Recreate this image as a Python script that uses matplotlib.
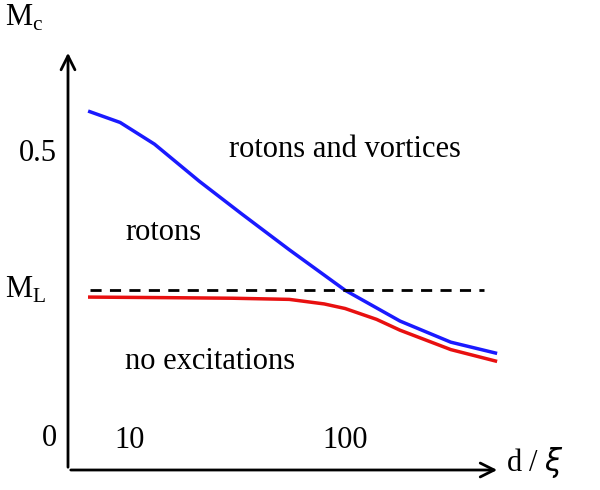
import matplotlib
matplotlib.use("Agg")
import matplotlib.pyplot as plt
import numpy as np

plt.rcParams['font.family'] = ['Liberation Serif', 'DejaVu Serif']

d_blue = [6.5, 9, 13, 21, 33, 55, 100, 180, 310, 500]
mc_blue = [0.567, 0.548, 0.510, 0.445, 0.388, 0.325, 0.254, 0.200, 0.163, 0.144]
d_red = [6.5, 15, 30, 55, 80, 100, 140, 180, 310, 500]
mc_red = [0.242, 0.241, 0.240, 0.238, 0.230, 0.222, 0.203, 0.184, 0.150, 0.130]
ML = 0.254
xticks = [10, 100]
xticklabels = ['10', '100']

fig = plt.figure(figsize=(6, 4.9), dpi=100)
ax = fig.add_axes([68/600, 20/490, 432/600, 420/490])
ax.set_xscale('log')
ax.set_xlim(5.15, 525)
ax.set_ylim(-0.061, 0.675)
for s in ax.spines.values():
    s.set_visible(False)
ax.annotate('', xy=(1.0, 0), xytext=(0, 0), xycoords='axes fraction',
            arrowprops=dict(arrowstyle='->', lw=2, color='black', mutation_scale=25))
ax.annotate('', xy=(0, 1.0), xytext=(0, 0), xycoords='axes fraction',
            arrowprops=dict(arrowstyle='->', lw=2, color='black', mutation_scale=25))

ax.plot(d_blue, mc_blue, color='#1a1aff', lw=2.5)
ax.plot(d_red, mc_red, color='#e81010', lw=2.5)
ax.plot([6.5, 440], [ML, ML], 'k--', lw=2, dashes=(4, 3))

ax.set_xticks([])
for xv, lab in zip(xticks, xticklabels):
    ax.text(xv, -0.01, lab, fontsize=22, ha='center', va='center')
ax.set_yticks([0, 0.5])
ax.set_yticklabels(['0', '0.5'], fontsize=22)
ax.tick_params(length=0, pad=8)
ax.minorticks_off()

ax.text(-0.05, ML, r'M$_\mathregular{L}$', transform=ax.get_yaxis_transform(),
        ha='right', va='center', fontsize=22)
fig.text(5/600, 1 - 18/490, r'M$_\mathregular{c}$', fontsize=22, va='center', ha='left')
fig.text(506/600, 1 - 462/490, r'd / $\xi$', fontsize=22, va='center', ha='left')

ax.text(29, 0.50, 'rotons and vortices', fontsize=22, ha='left', va='center')
ax.text(9.5, 0.356, 'rotons', fontsize=22, ha='left', va='center')
ax.text(9.5, 0.13, 'no excitations', fontsize=22, ha='left', va='center')

fig.savefig('out.png', dpi=100)
